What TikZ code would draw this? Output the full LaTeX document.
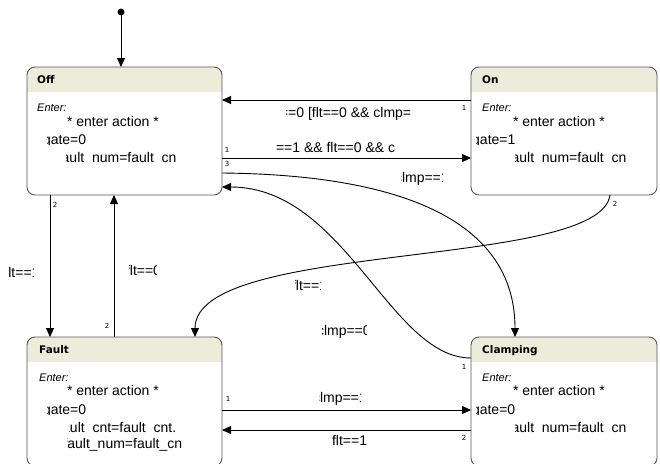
\documentclass[tikz,border=0pt]{standalone}
\usepackage{fontspec}
\setmainfont{Liberation Sans}
\newfontfamily\ttlfont{DejaVu Sans}
\newfontfamily\numfont{DejaVu Sans}
\usetikzlibrary{arrows.meta}
\definecolor{hdr}{RGB}{236,236,218}
\definecolor{bord}{RGB}{85,85,85}
\tikzset{
  txt/.style={inner sep=0pt, outer sep=0pt, anchor=base west, font=\fontsize{14}{16}\selectfont},
  ttl/.style={inner sep=0pt, anchor=base west, font=\ttlfont\bfseries\fontsize{10.5}{12}\selectfont},
  entr/.style={inner sep=0pt, anchor=base west, font=\itshape\fontsize{11}{13}\selectfont},
  num/.style={inner sep=0pt, font=\numfont\fontsize{7}{8}\selectfont},
  stb/.style={rectangle, inner sep=0pt, outer sep=0pt, fill=white},
  arr/.style={line width=0.9pt, -{Triangle[length=9pt,width=8pt]}},
}
% name, start x, baseline y, clip left, clip right, bottom extent, text
\newcommand\cliptext[7]{%
  \begin{scope}
    \clip (#4,#3-16) rectangle (#5,#3+#6);
    \node[txt] (#1) at (#2,#3) {#7};
  \end{scope}}
% name, x, y, w, h
\newcommand\stbox[5]{%
  \node[stb, minimum width=#4pt, minimum height=#5pt, anchor=north west] (#1) at (#2,#3) {};
  \begin{scope}
    \clip[rounded corners=8pt] (#1.south west) rectangle (#1.north east);
    \fill[hdr] (#1.north west) rectangle ([yshift=-25pt]#1.north east);
  \end{scope}
  \draw[bord, line width=0.9pt, rounded corners=8pt] (#1.south west) rectangle (#1.north east);}
\begin{document}
\begin{tikzpicture}[x=1pt,y=-1pt]
\clip (0,0) rectangle (660,463);
\fill[white] (0,0) rectangle (660,463);

% states
\stbox{off}{27}{67}{195}{128}
\stbox{on}{471}{67}{186}{128}
\stbox{fault}{27}{337}{195}{129}
\stbox{clamp}{471}{337}{186}{129}

% Off texts
\node[ttl] (offT) at (37,83) {Off};
\node[entr] (offE) at (37,111) {Enter:};
\node[txt] (offA) at (67,126) {* enter action *};
\cliptext{offG}{43}{144}{47}{200}{0.3}{gate=0}
\cliptext{offF}{57.8}{162}{66}{200}{0.3}{fault\_num=fault\_cn}

% On texts
\node[ttl] (onT) at (482,83) {On};
\node[entr] (onE) at (482,111) {Enter:};
\node[txt] (onA) at (513,126) {* enter action *};
\cliptext{onG}{472.2}{144}{476.5}{600}{0.3}{gate=1}
\cliptext{onF}{507.7}{162}{515.5}{650}{0.3}{fault\_num=fault\_cn}

% Fault texts
\node[ttl] (faultT) at (39,353) {Fault};
\node[entr] (faultE) at (39,381) {Enter:};
\node[txt] (faultA) at (67,395) {* enter action *};
\cliptext{faultG}{43}{414}{47}{200}{0.3}{gate=0}
\cliptext{faultC}{58.3}{432}{69}{200}{0.3}{fault\_cnt=fault\_cnt.}
\cliptext{faultN}{63.5}{448}{67}{200}{6}{fault\_num=fault\_cn}

% Clamping texts
\node[ttl] (clampT) at (482,353) {Clamping};
\node[entr] (clampE) at (482,381) {Enter:};
\node[txt] (clampA) at (513,395) {* enter action *};
\cliptext{clampG}{472}{414}{476}{600}{0.3}{gate=0}
\cliptext{clampF}{507.7}{432}{515.5}{650}{0.3}{fault\_num=fault\_cn}

% initial
\fill (121,12) circle (3.5pt);
\coordinate (init) at (121,12);
\draw[arr] (init) -- (init |- off.north);

% transitions
\draw[arr] (on.west |- 0,100) -- (off.east |- 0,100);
\draw[arr] (off.east |- 0,158) -- (on.west |- 0,158);
\draw[arr] (off.east |- 0,173) .. controls (420,175) and (515,230) .. (clamp.north -| 515,0);
\draw[arr] (clamp.west |- 0,358) .. controls (390,358) and (345,187) .. (off.east |- 0,187);
\draw[arr] (on.south -| 610,0) .. controls (600,270) and (195,240) .. (fault.north -| 195,0);
\draw[arr] (off.south -| 50,0) -- (fault.north -| 50,0);
\draw[arr] (fault.north -| 114,0) -- (off.south -| 114,0);
\draw[arr] (fault.east |- 0,410) -- (clamp.west |- 0,410);
\draw[arr] (clamp.west |- 0,430) -- (fault.east |- 0,430);

% transition labels
\cliptext{l1}{280}{117}{286.5}{500}{5}{==0 [flt==0 \&\& clmp=}
\node[txt] (l2) at (276,152) {==1 \&\& flt==0 \&\& c};
\cliptext{l3}{395}{182}{401}{442.6}{5}{clmp==1}
\cliptext{l4}{317}{335}{322.5}{366}{5}{clmp==0}
\cliptext{l5}{292}{290}{295.3}{320.3}{5}{flt==1}
\cliptext{l6}{4.5}{277}{8}{33}{5}{flt==1}
\cliptext{l7}{126}{275}{129}{156.5}{5}{flt==0}
\cliptext{l8}{313}{402}{319}{360}{5}{clmp==1}
\node[txt] (l9) at (332,445) {flt==1};

% port numbers
\node[num] (n1) at (464,108) {1};
\node[num] (n2) at (227,150) {1};
\node[num] (n3) at (227,164) {3};
\node[num] (n4) at (55,205) {2};
\node[num] (n5) at (107,326) {2};
\node[num] (n6) at (615,204) {2};
\node[num] (n7) at (464,367) {1};
\node[num] (n8) at (228,399) {1};
\node[num] (n9) at (464,438) {2};
\end{tikzpicture}
\end{document}
